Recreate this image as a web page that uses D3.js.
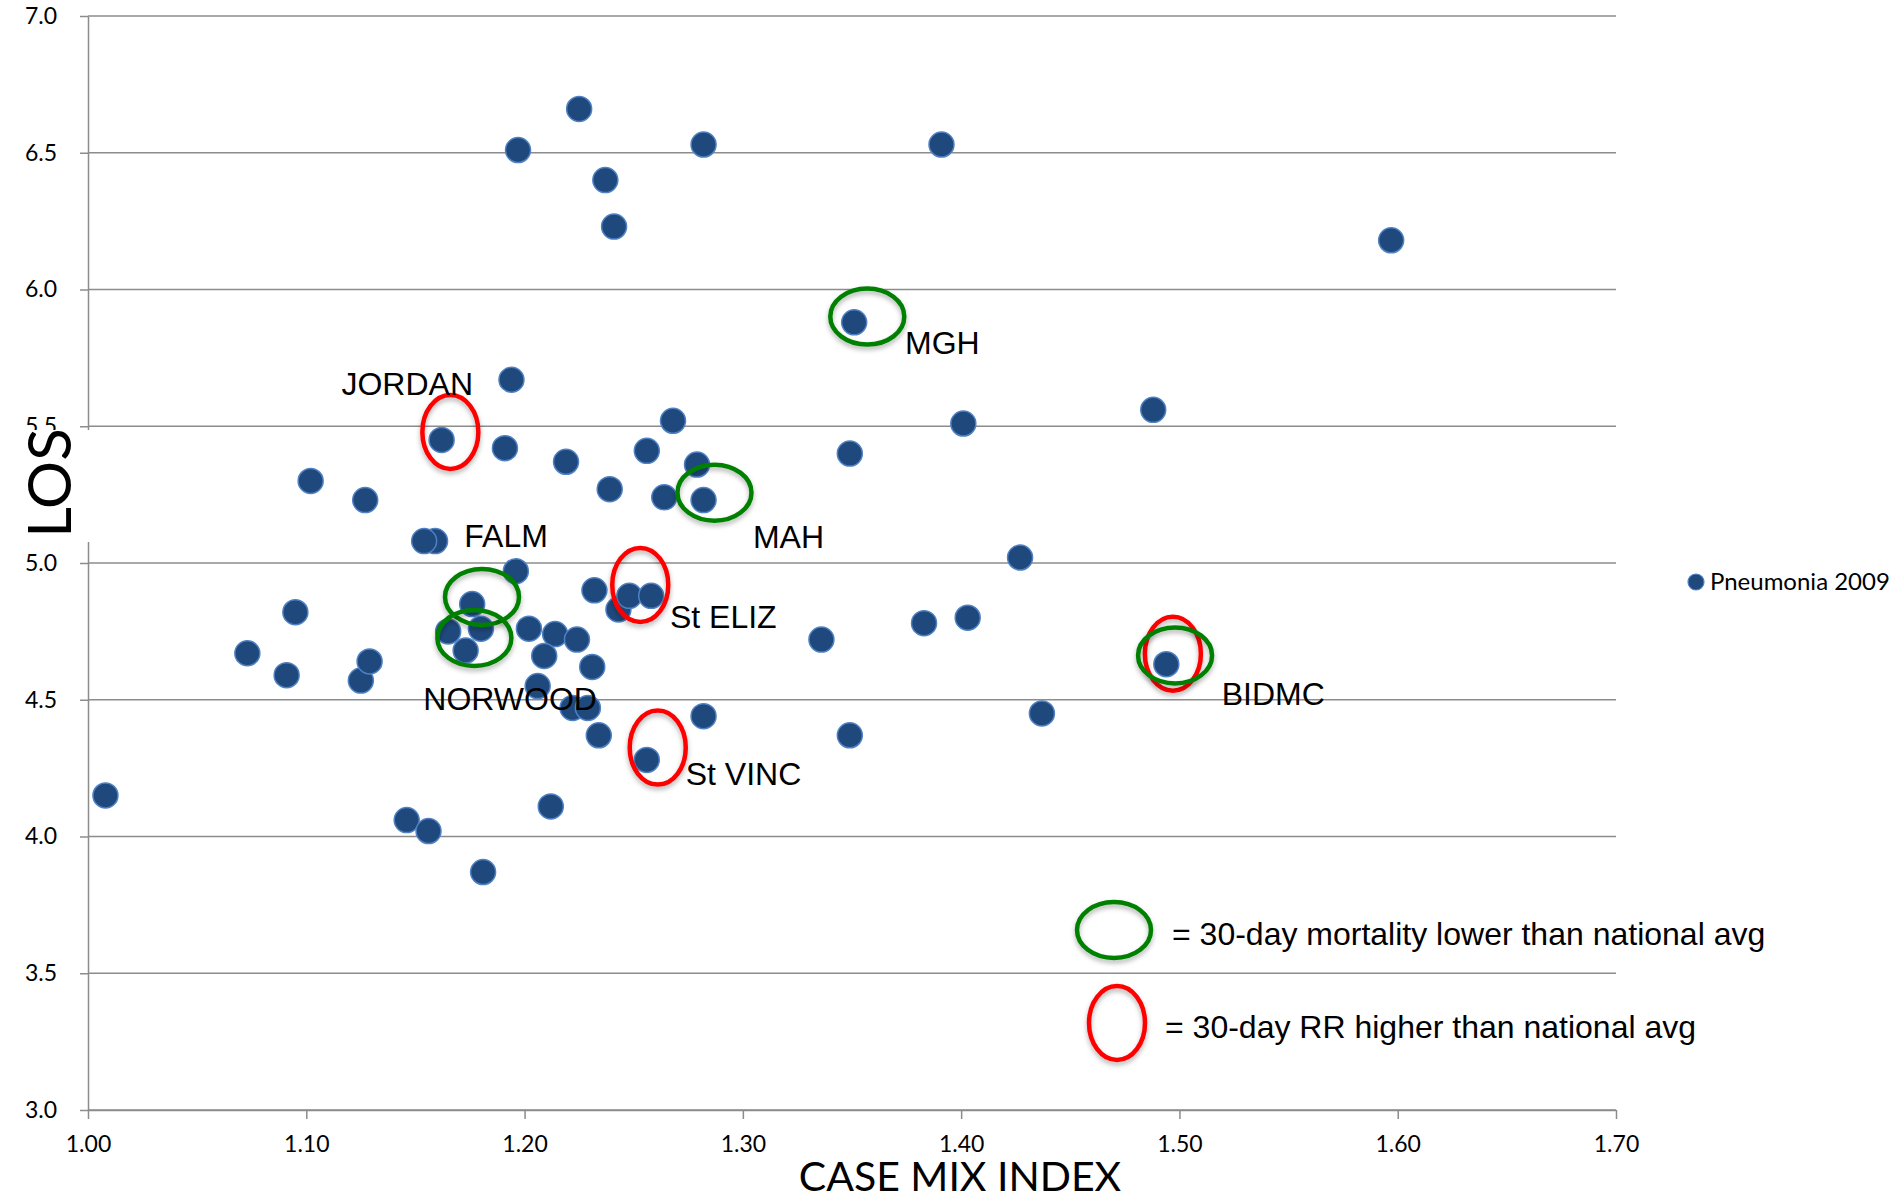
<!DOCTYPE html>
<html>
<head>
<meta charset="utf-8">
<script src="https://cdn.jsdelivr.net/npm/d3@7"></script>
<style>
  body { margin: 0; background: #fff; }
  svg { display: block; }
</style>
</head>
<body>
<svg id="chart"></svg>
<script>
// case mix index (x) and length of stay (y), Pneumonia 2009
var cmi = [1.197, 1.225, 1.237, 1.241, 1.282, 1.391, 1.597, 1.351, 1.194, 1.268,
           1.401, 1.488, 1.162, 1.191, 1.219, 1.256, 1.279, 1.349, 1.102, 1.127,
           1.239, 1.264, 1.282, 1.159, 1.154, 1.196, 1.427, 1.232, 1.243, 1.248,
           1.258, 1.176, 1.165, 1.180, 1.173, 1.095, 1.073, 1.091, 1.125, 1.129,
           1.202, 1.214, 1.224, 1.209, 1.231, 1.206, 1.222, 1.229, 1.234, 1.256,
           1.282, 1.349, 1.437, 1.336, 1.383, 1.403, 1.494, 1.008, 1.146, 1.156,
           1.181, 1.212];
var los = [6.51, 6.66, 6.40, 6.23, 6.53, 6.53, 6.18, 5.88, 5.67, 5.52,
           5.51, 5.56, 5.45, 5.42, 5.37, 5.41, 5.36, 5.40, 5.30, 5.23,
           5.27, 5.24, 5.23, 5.08, 5.08, 4.97, 5.02, 4.90, 4.83, 4.88,
           4.88, 4.85, 4.75, 4.76, 4.68, 4.82, 4.67, 4.59, 4.57, 4.64,
           4.76, 4.74, 4.72, 4.66, 4.62, 4.55, 4.47, 4.47, 4.37, 4.28,
           4.44, 4.37, 4.45, 4.72, 4.78, 4.80, 4.63, 4.15, 4.06, 4.02,
           3.87, 4.11];

var xTicks = [1.00, 1.10, 1.20, 1.30, 1.40, 1.50, 1.60, 1.70];
var yTicks = [3.0, 3.5, 4.0, 4.5, 5.0, 5.5, 6.0, 6.5, 7.0];

// hospital callouts: ring type, ring centre (cmi, los)
var ringKind = ["red", "green", "green", "red", "red", "red", "green", "green", "green"];
var ringCmi  = [1.166, 1.357, 1.287, 1.253, 1.261, 1.497, 1.498, 1.1805, 1.177];
var ringLos  = [5.479, 5.901, 5.257, 4.920, 4.325, 4.668, 4.662, 4.876, 4.726];

// hospital names and where their text starts (cmi, los of baseline)
var hospNames = ["JORDAN", "MGH", "FALM", "MAH", "St ELIZ", "NORWOOD", "St VINC", "BIDMC"];
var hospCmi   = [1.1161, 1.3743, 1.1724, 1.3046, 1.2666, 1.1536, 1.2738, 1.5194];
var hospLos   = [5.614, 5.764, 5.059, 5.055, 4.762, 4.463, 4.188, 4.481];

var seriesName = "Pneumonia 2009";
var keyTexts = ["= 30-day mortality lower than national avg", "= 30-day RR higher than national avg"];

var W = 1901, H = 1198;
var svg = d3.select("#chart").attr("width", W).attr("height", H);

var x = d3.scaleLinear().domain([1.0, 1.7]).range([88, 1616]);
var y = d3.scaleLinear().domain([3.0, 7.0]).range([1110, 16]);

var defs = svg.append("defs");
defs.append("filter").attr("id", "shadow")
    .attr("x", "-30%").attr("y", "-30%").attr("width", "160%").attr("height", "170%")
    .append("feDropShadow")
    .attr("dx", 0).attr("dy", 3).attr("stdDeviation", 2.5)
    .attr("flood-color", "#000").attr("flood-opacity", 0.3);

// horizontal gridlines
svg.append("g").selectAll("line")
    .data(yTicks)
    .join("line")
    .attr("x1", x(1.0)).attr("x2", x(1.7))
    .attr("y1", function(d){ return y(d); })
    .attr("y2", function(d){ return y(d); })
    .attr("stroke", "#8c8c8c")
    .attr("stroke-width", 1.5);

var yAxis = svg.append("g")
    .attr("transform", "translate(" + x(1.0) + ",0)")
    .call(d3.axisLeft(y).tickValues(yTicks).tickFormat(d3.format(".1f"))
          .tickSize(8).tickSizeOuter(0).tickPadding(23));

var xAxis = svg.append("g")
    .attr("transform", "translate(0," + y(3.0) + ")")
    .call(d3.axisBottom(x).tickValues(xTicks).tickFormat(d3.format(".2f"))
          .tickSize(9).tickSizeOuter(0).tickPadding(17));

[xAxis, yAxis].forEach(function(a){
    a.selectAll("path.domain").attr("stroke", "#8c8c8c").attr("stroke-width", 1.5);
    a.selectAll(".tick line").attr("stroke", "#8c8c8c").attr("stroke-width", 1.5);
    a.selectAll(".tick text")
        .style("font-family", "Lato, 'Open Sans', sans-serif")
        .style("font-size", "23px")
        .attr("fill", "#000");
});

// y axis title sits on a white box that hides part of the axis
svg.append("rect")
    .attr("x", 0).attr("y", 430).attr("width", 95).attr("height", 112)
    .attr("fill", "#fff");
svg.append("text")
    .text("LOS")
    .attr("transform", "translate(71,483) rotate(-90)")
    .attr("text-anchor", "middle")
    .style("font-family", "Lato, sans-serif")
    .style("font-size", "60px")
    .attr("fill", "#000");

svg.append("text")
    .text("CASE MIX INDEX")
    .attr("x", 960).attr("y", 1191)
    .attr("text-anchor", "middle")
    .style("font-family", "Lato, sans-serif")
    .style("font-size", "41px")
    .attr("fill", "#000");

// points
var pts = d3.range(cmi.length);
svg.append("g").selectAll("circle")
    .data(pts)
    .join("circle")
    .attr("cx", function(i){ return x(cmi[i]); })
    .attr("cy", function(i){ return y(los[i]); })
    .attr("r", 12.5)
    .attr("fill", "#1f497d")
    .attr("stroke", "#4f81c4")
    .attr("stroke-width", 1.5);

// rings
svg.append("g").selectAll("ellipse")
    .data(d3.range(ringKind.length))
    .join("ellipse")
    .attr("cx", function(i){ return x(ringCmi[i]); })
    .attr("cy", function(i){ return y(ringLos[i]); })
    .attr("rx", function(i){ return ringKind[i] == "green" ? 37 : 28; })
    .attr("ry", function(i){ return ringKind[i] == "green" ? 28 : 37; })
    .attr("fill", "none")
    .attr("stroke", function(i){ return ringKind[i] == "green" ? "#008000" : "#ff0000"; })
    .attr("stroke-width", 4.5)
    .attr("filter", "url(#shadow)");

svg.append("g").selectAll("text")
    .data(hospNames)
    .join("text")
    .text(function(d){ return d; })
    .attr("x", function(d, i){ return x(hospCmi[i]); })
    .attr("y", function(d, i){ return y(hospLos[i]); })
    .style("font-family", "'Liberation Sans', Arial, sans-serif")
    .style("font-size", "32px")
    .attr("fill", "#000");

// key for the rings
var key = svg.append("g");
key.append("ellipse")
    .attr("cx", 1114).attr("cy", 930).attr("rx", 37).attr("ry", 28)
    .attr("fill", "none").attr("stroke", "#008000").attr("stroke-width", 4.5)
    .attr("filter", "url(#shadow)");
key.append("ellipse")
    .attr("cx", 1117).attr("cy", 1023).attr("rx", 28).attr("ry", 37)
    .attr("fill", "none").attr("stroke", "#ff0000").attr("stroke-width", 4.5)
    .attr("filter", "url(#shadow)");
key.selectAll("text")
    .data(keyTexts)
    .join("text")
    .text(function(d){ return d; })
    .attr("x", function(d, i){ return i == 0 ? 1172 : 1165; })
    .attr("y", function(d, i){ return i == 0 ? 945 : 1038; })
    .style("font-family", "'Liberation Sans', Arial, sans-serif")
    .style("font-size", "32px")
    .attr("fill", "#000");

// series legend
var leg = svg.append("g");
leg.append("circle")
    .attr("cx", 1696).attr("cy", 582).attr("r", 8)
    .attr("fill", "#1f497d").attr("stroke", "#4f81c4").attr("stroke-width", 1.2);
leg.append("text")
    .text(seriesName)
    .attr("x", 1710).attr("y", 590)
    .style("font-family", "Lato, sans-serif")
    .style("font-size", "24px")
    .attr("fill", "#000");
</script>
</body>
</html>
